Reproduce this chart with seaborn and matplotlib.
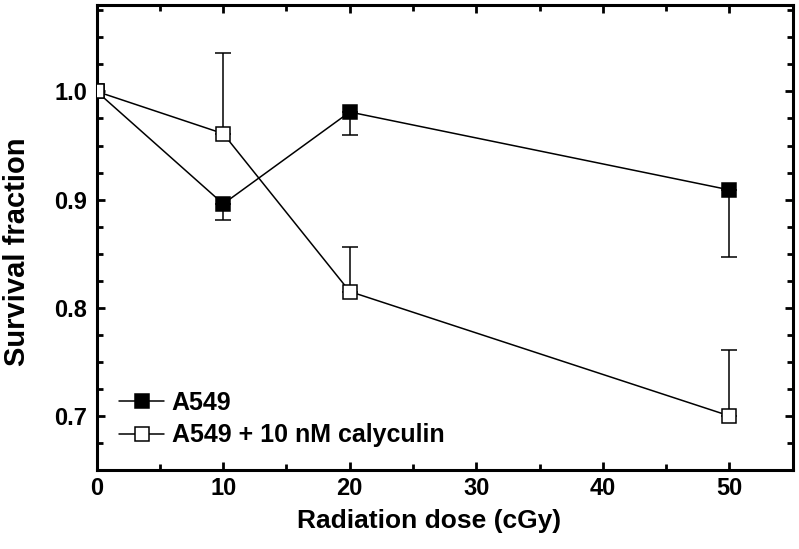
"""Survival fraction vs radiation dose - A549 +/- calyculin"""

import numpy as np
import pandas as pd
import matplotlib
matplotlib.use("Agg")
import matplotlib.pyplot as plt
import seaborn as sns
from matplotlib.ticker import MultipleLocator, FormatStrFormatter

dose = [0, 10, 20, 50]

a549 = [1.0, 0.896, 0.981, 0.909]
a549_err_low = [0.0, 0.015, 0.021, 0.062]

caly = [1.0, 0.961, 0.815, 0.700]
caly_err_high = [0.0, 0.075, 0.041, 0.061]

labels = ["A549", "A549 + 10 nM calyculin"]

df = pd.DataFrame({
    "dose": dose * 2,
    "sf": a549 + caly,
    "group": [labels[0]] * 4 + [labels[1]] * 4,
})

sns.set_style("ticks")
plt.rcParams["font.family"] = ["Liberation Sans", "DejaVu Sans"]
plt.rcParams["font.weight"] = "bold"
for k in ["text.color", "axes.labelcolor", "xtick.color", "ytick.color", "axes.edgecolor"]:
    plt.rcParams[k] = "black"

fig = plt.figure(figsize=(7.99, 5.49), dpi=100)
ax = fig.add_axes([0.121, 0.144, 0.871, 0.847])

# error bars first (one-sided), markers go on top
ax.errorbar(dose, a549, yerr=[a549_err_low, [0] * 4], fmt="none",
            ecolor="black", elinewidth=1.1, capsize=5.8, capthick=1.1, zorder=2)
ax.errorbar(dose, caly, yerr=[[0] * 4, caly_err_high], fmt="none",
            ecolor="black", elinewidth=1.1, capsize=5.8, capthick=1.1, zorder=2)

sns.lineplot(data=df[df.group == labels[0]], x="dose", y="sf", ax=ax,
             color="black", lw=1.1, marker="s", markersize=10.5,
             markerfacecolor="black", markeredgecolor="black", markeredgewidth=1.1,
             label=labels[0], zorder=3)
sns.lineplot(data=df[df.group == labels[1]], x="dose", y="sf", ax=ax,
             color="black", lw=1.1, marker="s", markersize=10.5,
             markerfacecolor="white", markeredgecolor="black", markeredgewidth=1.1,
             label=labels[1], zorder=3)

ax.set_xlim(0, 55)
ax.set_ylim(0.65, 1.08)
ax.xaxis.set_major_locator(MultipleLocator(10))
ax.xaxis.set_minor_locator(MultipleLocator(5))
ax.yaxis.set_major_locator(MultipleLocator(0.1))
ax.yaxis.set_minor_locator(MultipleLocator(0.025))
ax.yaxis.set_major_formatter(FormatStrFormatter("%.1f"))

ax.tick_params(which="both", direction="in", top=True, right=True,
               width=2, labelsize=17)
ax.tick_params(axis="x", pad=5)
ax.tick_params(axis="y", pad=7)
ax.tick_params(which="major", length=6)
ax.tick_params(which="minor", length=4)
for s in ax.spines.values():
    s.set_linewidth(2.2)

for lab in ax.get_xticklabels() + ax.get_yticklabels():
    lab.set_fontweight("bold")

ax.set_xlabel("Radiation dose (cGy)", fontsize=19, fontweight="bold")
ax.xaxis.set_label_coords(0.478, -0.085)
ax.set_ylabel("Survival fraction", fontsize=21, fontweight="bold")
ax.yaxis.set_label_coords(-0.095, 0.47)

leg = ax.legend(loc="lower left", bbox_to_anchor=(0.0, 0.0), frameon=False,
                prop={"size": 18, "weight": "bold"}, handlelength=1.8,
                handletextpad=0.3, labelspacing=0.35, borderaxespad=0.5)
for h in leg.legend_handles:
    h.set_markersize(9.5)

fig.savefig("out.png", dpi=100)
